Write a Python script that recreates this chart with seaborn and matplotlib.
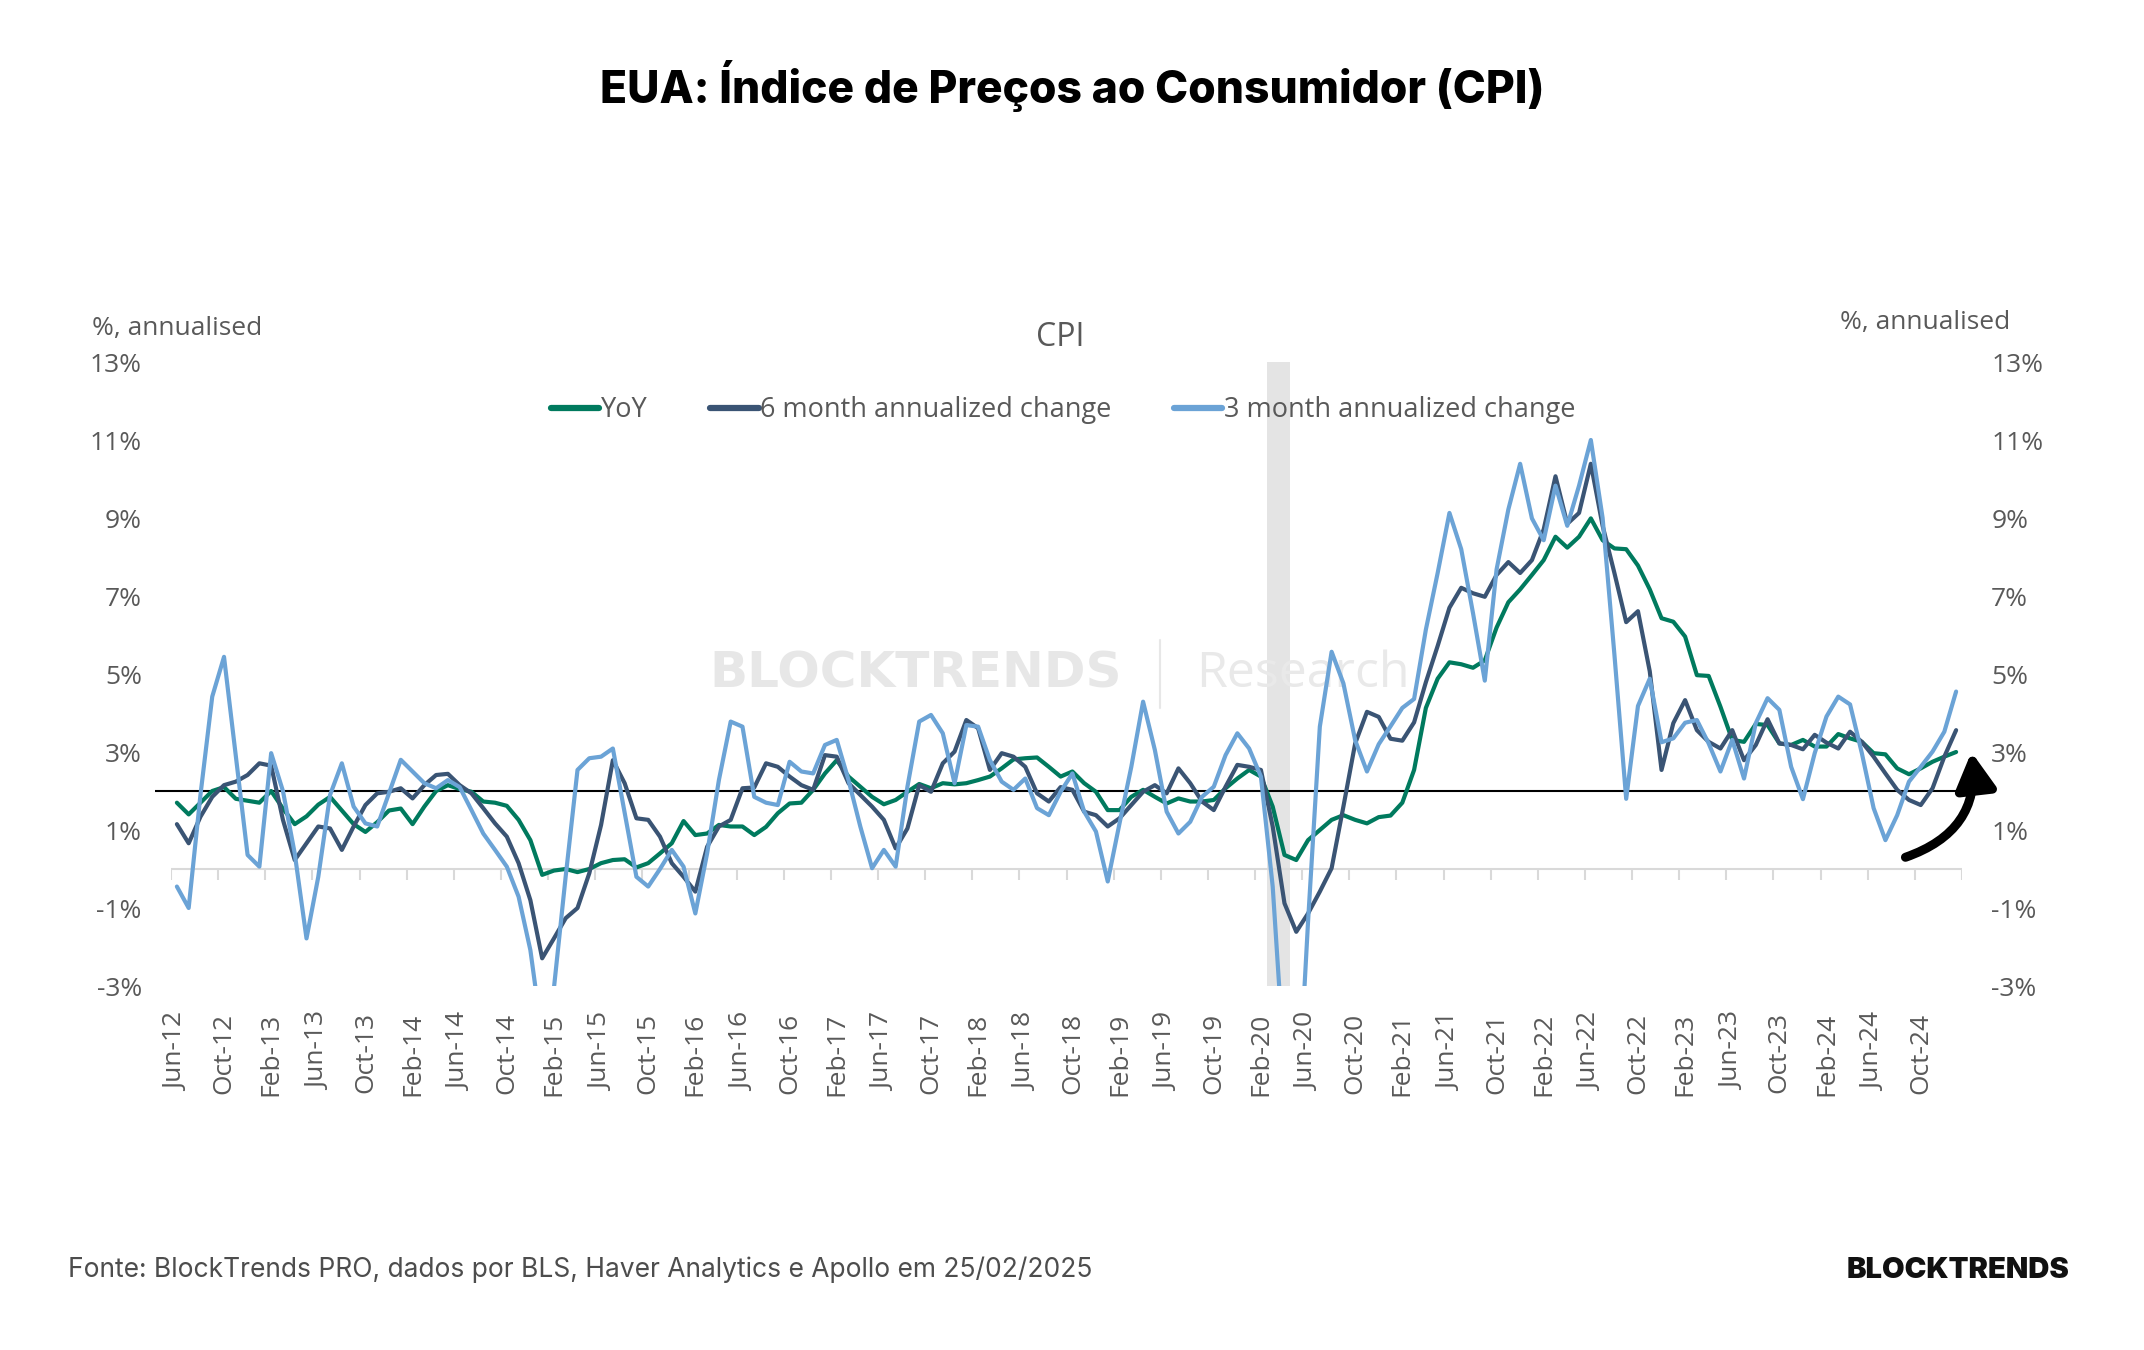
import numpy as np
import pandas as pd
import seaborn as sns
import matplotlib.pyplot as plt
from matplotlib.lines import Line2D
from matplotlib.patches import FancyArrowPatch

# Monthly CPI readings, Jun-2012 .. Jan-2025 (%)
months = pd.date_range("2012-06-01", "2025-01-01", freq="MS")

yoy = [
    1.7, 1.4, 1.7, 2.0, 2.1, 1.8, 1.75, 1.7, 2.0, 1.55, 1.15, 1.35, 1.65, 1.85, 1.5, 1.15, 0.95, 1.2, 1.5, 1.55,
    1.15, 1.6, 2.0, 2.15, 2.05, 1.98, 1.73, 1.7, 1.62, 1.26, 0.74, -0.15, -0.04, 0.0, -0.08, 0.0, 0.15, 0.23, 0.25, 0.04,
    0.15, 0.4, 0.66, 1.23, 0.87, 0.91, 1.13, 1.09, 1.09, 0.87, 1.08, 1.43, 1.68, 1.7, 2.03, 2.45, 2.79, 2.37, 2.11, 1.85,
    1.66, 1.77, 1.98, 2.18, 2.07, 2.2, 2.17, 2.2, 2.28, 2.37, 2.58, 2.81, 2.84, 2.86, 2.62, 2.37, 2.5, 2.2, 1.98, 1.51,
    1.51, 1.85, 2.03, 1.85, 1.68, 1.81, 1.73, 1.73, 1.77, 2.07, 2.32, 2.54, 2.37, 1.6, 0.36, 0.23, 0.74, 1.0, 1.26, 1.38,
    1.26, 1.17, 1.33, 1.37, 1.7, 2.54, 4.13, 4.88, 5.3, 5.25, 5.16, 5.35, 6.19, 6.84, 7.17, 7.54, 7.92, 8.52, 8.24, 8.52,
    8.99, 8.43, 8.22, 8.2, 7.78, 7.17, 6.43, 6.34, 5.96, 4.97, 4.95, 4.16, 3.31, 3.26, 3.72, 3.69, 3.22, 3.18, 3.31, 3.14,
    3.14, 3.46, 3.35, 3.26, 2.97, 2.94, 2.58, 2.43, 2.58, 2.75, 2.88, 3.0,
]

six_month = [
    1.15, 0.66, 1.34, 1.85, 2.15, 2.24, 2.41, 2.71, 2.65, 1.26, 0.23, 0.66, 1.09, 1.04, 0.49, 1.09, 1.64, 1.94, 1.98, 2.07,
    1.81, 2.15, 2.41, 2.44, 2.15, 1.94, 1.56, 1.17, 0.83, 0.15, -0.8, -2.29, -1.78, -1.26, -1.0, -0.11, 1.13, 2.79, 2.2, 1.3,
    1.26, 0.83, 0.15, -0.2, -0.58, 0.57, 1.09, 1.26, 2.07, 2.09, 2.71, 2.62, 2.37, 2.15, 2.03, 2.92, 2.88, 2.2, 1.9, 1.6,
    1.26, 0.53, 1.04, 2.15, 1.98, 2.71, 3.01, 3.82, 3.61, 2.54, 2.97, 2.88, 2.62, 1.94, 1.73, 2.1, 2.03, 1.47, 1.38, 1.09,
    1.3, 1.64, 1.98, 2.15, 1.94, 2.58, 2.2, 1.73, 1.51, 2.11, 2.67, 2.62, 2.54, 1.09, -0.88, -1.61, -1.14, -0.58, 0.02, 1.6,
    3.22, 4.03, 3.9, 3.34, 3.29, 3.76, 4.79, 5.72, 6.7, 7.21, 7.07, 6.98, 7.54, 7.87, 7.59, 7.92, 8.71, 10.07, 8.85, 9.13,
    10.39, 8.8, 7.59, 6.33, 6.61, 5.07, 2.54, 3.74, 4.33, 3.56, 3.26, 3.09, 3.56, 2.79, 3.18, 3.84, 3.22, 3.18, 3.07, 3.44,
    3.24, 3.09, 3.52, 3.26, 2.88, 2.45, 2.03, 1.77, 1.64, 2.07, 2.88, 3.56,
]

three_month = [
    -0.45, -1.0, 1.9, 4.42, 5.44, 2.9, 0.36, 0.06, 2.97, 2.0, 0.4, -1.78, -0.2, 1.9, 2.71, 1.6, 1.17, 1.09, 1.94, 2.8,
    2.5, 2.2, 2.07, 2.28, 2.1, 1.51, 0.91, 0.49, 0.06, -0.71, -2.08, -4.3, -3.05, -0.18, 2.54, 2.84, 2.88, 3.09, 1.45, -0.2,
    -0.45, 0.0, 0.49, 0.06, -1.14, 0.4, 2.28, 3.78, 3.65, 1.85, 1.7, 1.64, 2.75, 2.5, 2.45, 3.18, 3.31, 2.28, 1.09, 0.02,
    0.49, 0.06, 2.11, 3.78, 3.95, 3.48, 2.2, 3.69, 3.65, 2.79, 2.24, 2.03, 2.32, 1.56, 1.38, 1.98, 2.45, 1.47, 0.96, -0.32,
    1.17, 2.62, 4.29, 3.05, 1.47, 0.91, 1.21, 1.85, 2.11, 2.92, 3.48, 3.09, 2.37, -0.45, -5.1, -6.9, -1.35, 3.65, 5.57, 4.76,
    3.3, 2.5, 3.2, 3.66, 4.13, 4.36, 6.14, 7.59, 9.13, 8.2, 6.56, 4.83, 7.68, 9.22, 10.39, 8.99, 8.43, 9.83, 8.8, 9.83,
    11.0, 9.0, 5.5, 1.8, 4.18, 4.88, 3.25, 3.35, 3.75, 3.82, 3.22, 2.5, 3.31, 2.32, 3.74, 4.38, 4.08, 2.62, 1.79, 2.97,
    3.91, 4.42, 4.22, 2.97, 1.56, 0.74, 1.38, 2.24, 2.62, 3.01, 3.52, 4.55,
]

series_names = ["YoY", "6 month annualized change", "3 month annualized change"]
series_colors = ["#007a5e", "#3a5474", "#6ba3d6"]
target = 2.0
recession_months = ["2020-03-01", "2020-04-01"]
y_ticks = list(range(-3, 14, 2))
tick_step = 4

W, H = 2144, 1350
GRAY = "#595959"

sns.set_theme(style="white")
plt.rcParams["font.family"] = ["Open Sans", "DejaVu Sans"]

fig = plt.figure(figsize=(W / 100, H / 100), dpi=100)
fig.patch.set_facecolor("white")


def fx(px):
    return px / W


def fy(py):
    return 1 - py / H


ax = fig.add_axes([fx(171), fy(986), fx(1962) - fx(171), fy(362) - fy(986)])
ax.set_facecolor("none")

pos = np.arange(len(months))
df = pd.DataFrame({"pos": pos, series_names[0]: yoy,
                   series_names[1]: six_month, series_names[2]: three_month})

# recession shading
rec = [months.get_loc(pd.Timestamp(m)) for m in recession_months]
ax.axvspan(rec[0] - 0.5, rec[1] + 0.5, color="#e4e4e4", lw=0, zorder=0)

# axis line at zero with category tick marks
ax.axhline(0, color="#d9d9d9", lw=1.5, zorder=1)
bounds = np.arange(-0.5, len(months), tick_step)
ax.vlines(bounds, -0.27, 0, color="#d9d9d9", lw=1.5, zorder=1)

# 2% target line (runs a little past the plot area)
ax.hlines(target, -1.9, len(months) + 0.9, color="black", lw=1.5, zorder=2, clip_on=False)

for name, col in zip(series_names, series_colors):
    sns.lineplot(data=df, x="pos", y=name, ax=ax, color=col, lw=3,
                 estimator=None, sort=False, zorder=3)

ax.set_xlim(-0.5, len(months) - 0.5)
ax.set_ylim(-3, 13)
ax.set_xlabel("")
ax.set_ylabel("")
sns.despine(ax=ax, left=True, bottom=True)

ax.set_xticks(pos[::tick_step])
ax.set_xticklabels(months[::tick_step].strftime("%b-%y"), rotation=90)
ax.set_yticks(y_ticks)
ax.set_yticklabels([f"{t}%" for t in y_ticks])
ax.tick_params(axis="x", length=0, pad=19, labelsize=19, labelcolor=GRAY)
ax.tick_params(axis="y", length=0, pad=21, labelsize=19, labelcolor=GRAY)

ax2 = ax.twinx()
ax2.set_ylim(ax.get_ylim())
ax2.set_yticks(y_ticks)
ax2.set_yticklabels([f"{t}%" for t in y_ticks])
ax2.tick_params(axis="y", length=0, pad=21, labelsize=19, labelcolor=GRAY)
for s in ax2.spines.values():
    s.set_visible(False)

# arrow pointing at the recent re-acceleration
arrow = FancyArrowPatch((146.7, 0.3), (152.3, 3.0), transform=ax.transData,
                        connectionstyle="arc3,rad=0.4",
                        arrowstyle="-|>,head_length=0.72,head_width=0.4",
                        mutation_scale=30, lw=6.5, color="black", shrinkA=0, shrinkB=0,
                        clip_on=False, zorder=5)
ax.add_patch(arrow)

# watermark
ax.text(fx(916), fy(674), "BLOCKTRENDS", transform=fig.transFigure, ha="center", va="center",
        fontsize=36, fontweight="bold", color="#e7e7e7", family=["DejaVu Sans"], zorder=0.5)
fig.add_artist(Line2D([fx(1160), fx(1160)], [fy(640), fy(708)], transform=fig.transFigure,
                      color="#e7e7e7", lw=1.5, zorder=-1))
ax.text(fx(1196), fy(674), "Research", transform=fig.transFigure, ha="left", va="center",
        fontsize=36, color="#e9e9e9", zorder=0.5)

# legend
handles = [Line2D([], [], color=c, lw=4.5) for c in series_colors]
fig.legend(handles, series_names, loc="center", bbox_to_anchor=(fx(1063), fy(410)), ncol=3,
           frameon=False, fontsize=19.5, labelcolor=GRAY, handlelength=1.8,
           handletextpad=0.05, columnspacing=2.3)

# titles and labels
fig.text(fx(1072), fy(86), "EUA: Índice de Preços ao Consumidor (CPI)", ha="center", va="center",
         fontsize=32, fontweight="heavy", color="black", family=["Inter", "DejaVu Sans"])
fig.text(fx(1060), fy(338), "CPI", ha="center", va="center", fontsize=23, color=GRAY)
fig.text(fx(92), fy(328), "%, annualised", ha="left", va="center", fontsize=19, color=GRAY)
fig.text(fx(2010), fy(323), "%, annualised", ha="right", va="center", fontsize=19, color=GRAY)

fig.text(fx(68), fy(1270), "Fonte: BlockTrends PRO, dados por BLS, Haver Analytics e Apollo em 25/02/2025",
         ha="left", va="center", fontsize=19, color="#4d4d4d", family=["Inter", "DejaVu Sans"])
fig.text(fx(2069), fy(1270), "BLOCKTRENDS", ha="right", va="center", fontsize=21,
         fontweight="black", color="#111111", family=["Inter", "DejaVu Sans"])

fig.savefig("out.png", dpi=100, facecolor="white")
